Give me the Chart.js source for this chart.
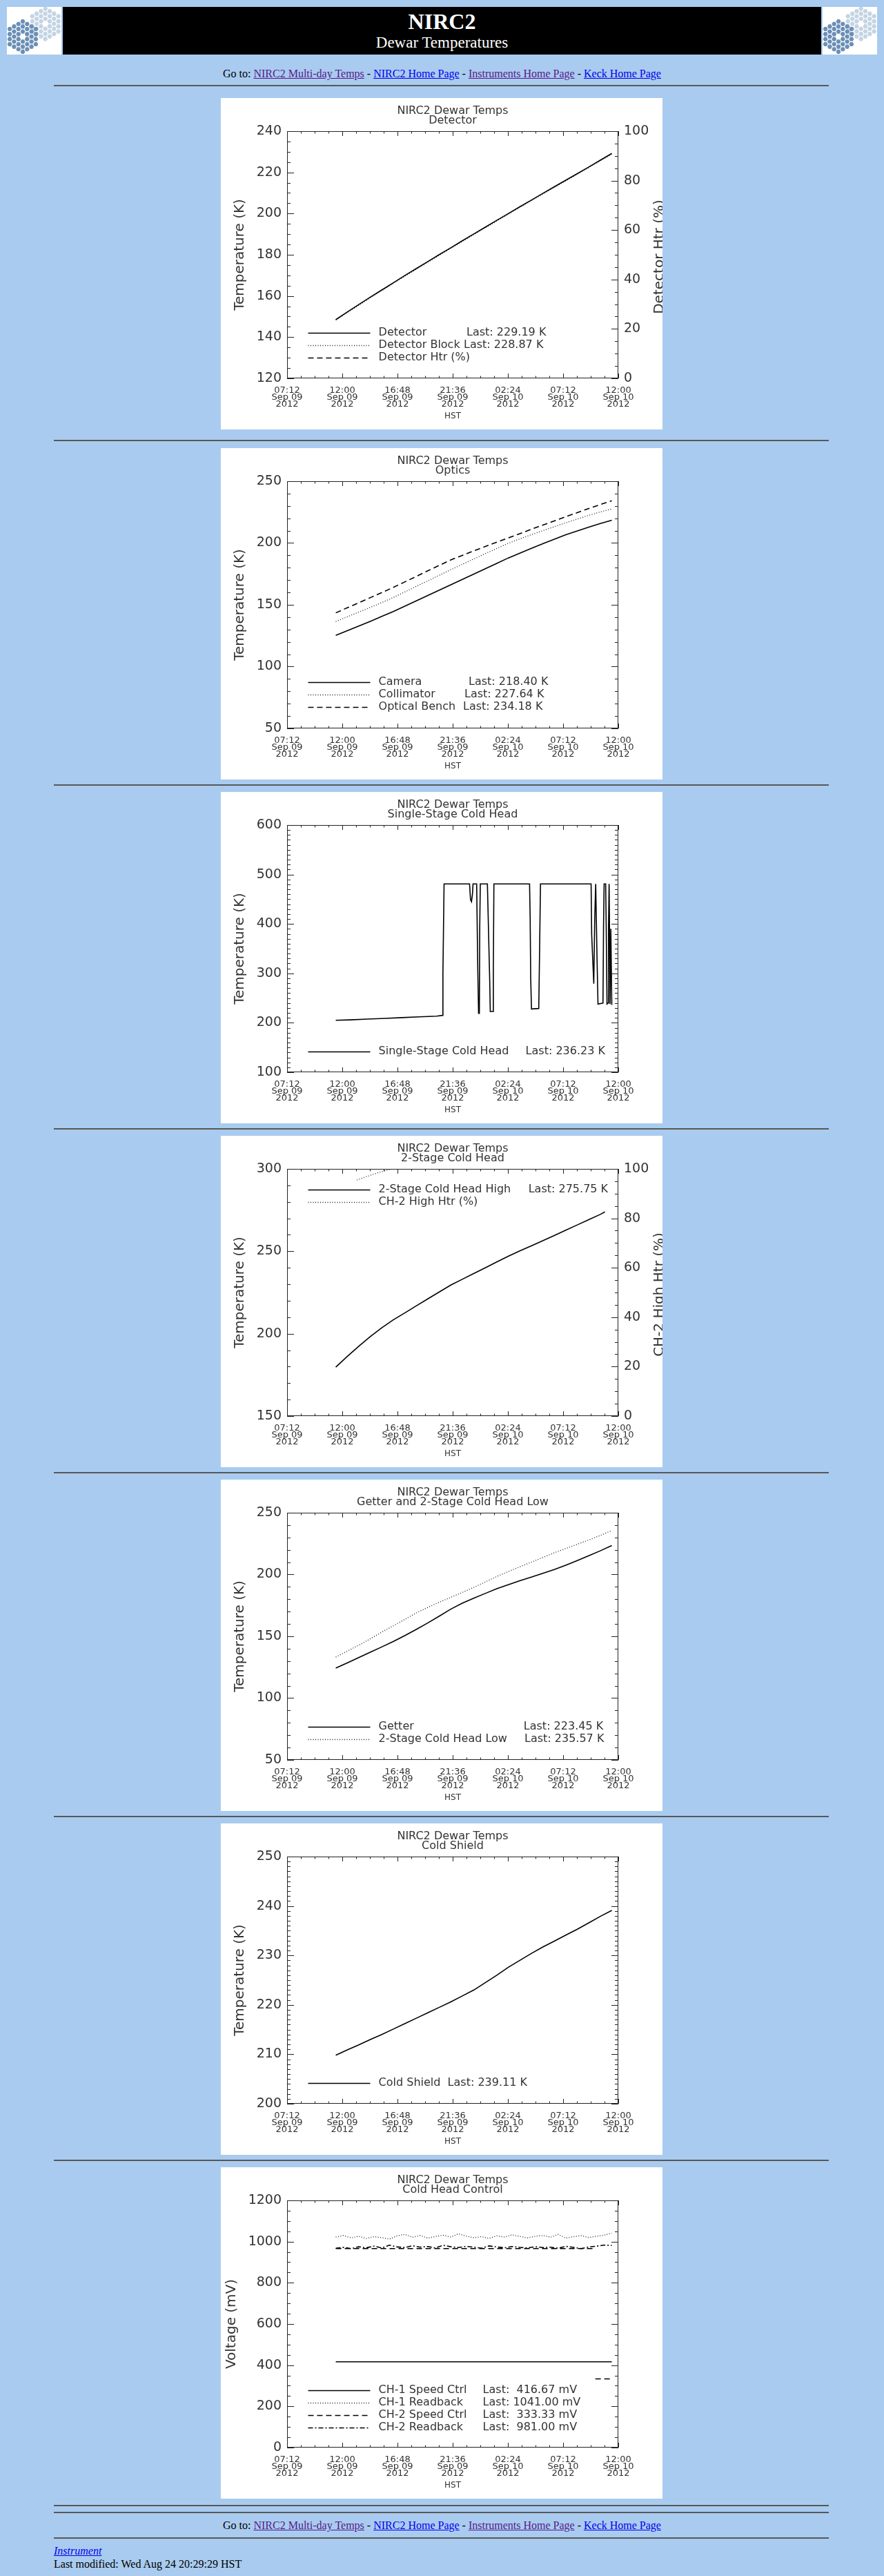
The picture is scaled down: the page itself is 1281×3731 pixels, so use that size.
<!DOCTYPE html>
<html>
<head>
<meta charset="utf-8">
<title>NIRC2 Dewar Temperatures</title>
<script src="https://cdn.jsdelivr.net/npm/chart.js@4.4.1/dist/chart.umd.min.js"></script>
<style>
  body { margin: 0; background: #a9cbef; font-family: 'Liberation Serif', 'Times New Roman', serif; font-size: 16px; }
  #page { position: relative; width: 1281px; height: 3731px; overflow: hidden; }
  .logo { position: absolute; top: 10px; }
  #banner { position: absolute; left: 91px; top: 10px; width: 1099px; height: 69px; background: #000; color: #fff; text-align: center; }
  #banner .big { position: absolute; left: 0; right: 0; top: 5px; font-size: 32px; line-height: 32px; font-weight: bold; }
  #banner .small { position: absolute; left: 0; right: 0; top: 40px; font-size: 23px; line-height: 23px; }
  .rule { position: absolute; left: 78px; width: 1123px; height: 2px; background: #585858; }
  .goto { position: absolute; left: 0; width: 1281px; text-align: center; line-height: 18px; color: #000; }
  .foot { position: absolute; left: 78px; line-height: 18px; }
  a { text-decoration: underline; }
  a.seen { color: #551a8b; }
  a.fresh { color: #0000ee; }
  canvas.plot { position: absolute; left: 320px; background: #fff; }
</style>
</head>
<body>
<div id="page">
  <canvas class="logo" id="logoL" width="79" height="69" style="left:10px"></canvas>
  <div id="banner">
    <div class="big">NIRC2</div>
    <div class="small">Dewar Temperatures</div>
  </div>
  <canvas class="logo" id="logoR" width="79" height="69" style="left:1192px"></canvas>

  <div class="goto" style="top:98px">Go to: <a class="seen" href="#">NIRC2 Multi-day Temps</a> - <a class="fresh" href="#">NIRC2 Home Page</a> - <a class="seen" href="#">Instruments Home Page</a> - <a class="fresh" href="#">Keck Home Page</a></div>
  <div class="rule" style="top:123px"></div>

  <canvas class="plot" id="detector" width="640" height="480" style="top:142px"></canvas>
  <div class="rule" style="top:637px"></div>
  <canvas class="plot" id="optics" width="640" height="480" style="top:649px"></canvas>
  <div class="rule" style="top:1136px"></div>
  <canvas class="plot" id="single" width="640" height="480" style="top:1147px"></canvas>
  <div class="rule" style="top:1634px"></div>
  <canvas class="plot" id="twostage" width="640" height="480" style="top:1645px"></canvas>
  <div class="rule" style="top:2132px"></div>
  <canvas class="plot" id="getter" width="640" height="480" style="top:2143px"></canvas>
  <div class="rule" style="top:2630px"></div>
  <canvas class="plot" id="shield" width="640" height="480" style="top:2641px"></canvas>
  <div class="rule" style="top:3128px"></div>
  <canvas class="plot" id="control" width="640" height="480" style="top:3139px"></canvas>
  <div class="rule" style="top:3628px"></div>
  <div class="rule" style="top:3638px"></div>

  <div class="goto" style="top:3649px">Go to: <a class="seen" href="#">NIRC2 Multi-day Temps</a> - <a class="fresh" href="#">NIRC2 Home Page</a> - <a class="seen" href="#">Instruments Home Page</a> - <a class="fresh" href="#">Keck Home Page</a></div>
  <div class="rule" style="top:3675px"></div>
  <div class="foot" style="top:3686px"><a class="fresh" href="#"><i>Instrument</i></a></div>
  <div class="foot" style="top:3705px">Last modified: Wed Aug 24 20:29:29 HST</div>
</div>

<script>
// time is minutes after midnight, Sep 09 2012 HST
const timeTickLabels = [
  ['07:12', 'Sep 09', '2012'], ['12:00', 'Sep 09', '2012'], ['16:48', 'Sep 09', '2012'],
  ['21:36', 'Sep 09', '2012'], ['02:24', 'Sep 10', '2012'], ['07:12', 'Sep 10', '2012'],
  ['12:00', 'Sep 10', '2012']
];

const hourlyTimes = [686, 746, 806, 866, 926, 986, 1046, 1106, 1166, 1226, 1286, 1346, 1406,
  1466, 1526, 1586, 1646, 1706, 1766, 1826, 1886, 1946, 2006, 2066, 2126];

// Detector
const detectorTemp = [148.5, 152.2, 155.8, 159.4, 162.9, 166.4, 169.9, 173.3, 176.7, 180.1, 183.4, 186.8, 190.1,
  193.4, 196.7, 200.0, 203.3, 206.5, 209.8, 213.0, 216.2, 219.4, 222.6, 225.9, 229.19];
const detectorBlockTemp = [148.3, 151.9, 155.5, 159.1, 162.6, 166.1, 169.6, 173.0, 176.4, 179.8, 183.1, 186.5, 189.8,
  193.1, 196.4, 199.7, 203.0, 206.2, 209.5, 212.7, 215.9, 219.1, 222.3, 225.6, 228.87];
const detectorHeater = [0, 0, 0, 0, 0, 0, 0, 0, 0, 0, 0, 0, 0, 0, 0, 0, 0, 0, 0, 0, 0, 0, 0, 0, 0];
const detectorLegend = ['Detector', 'Detector Block', 'Detector Htr (%)'];
const detectorLast = ['Last: 229.19 K', 'Last: 228.87 K', ''];

// Optics
const cameraTemp = [125.3, 129.0, 132.8, 136.6, 140.6, 144.6, 148.9, 153.2, 157.5, 161.9, 166.2, 170.5, 174.9,
  179.2, 183.5, 187.9, 191.8, 195.6, 199.4, 203.1, 206.7, 209.8, 212.9, 215.8, 218.40];
const collimatorTemp = [136.5, 140.3, 144.1, 147.9, 151.8, 155.9, 160.4, 164.9, 169.4, 173.9, 178.4, 182.8, 187.1,
  191.4, 195.6, 199.8, 203.3, 206.7, 210.0, 213.2, 216.4, 219.4, 222.4, 225.1, 227.64];
const benchTemp = [143.5, 147.6, 151.7, 155.8, 159.9, 164.1, 168.5, 173.0, 177.5, 181.9, 186.3, 190.0, 193.6,
  197.2, 200.7, 204.1, 207.6, 211.1, 214.5, 217.9, 221.3, 224.6, 227.9, 231.1, 234.18];
const opticsLegend = ['Camera', 'Collimator', 'Optical Bench'];
const opticsLast = ['Last: 218.40 K', 'Last: 227.64 K', 'Last: 234.18 K'];

// Single-stage cold head
const singleTimes = [686, 762, 852, 942, 1032, 1122, 1212, 1243, 1245, 1248, 1251, 1384, 1389, 1394, 1399, 1402,
  1421, 1424, 1427, 1431, 1435, 1437, 1440, 1477, 1481, 1485, 1489, 1492, 1506, 1508, 1511,
  1697, 1700, 1703, 1707, 1745, 1748, 1751, 1754, 2018, 2021, 2026, 2032, 2037, 2042,
  2044, 2049, 2054, 2080, 2083, 2086, 2094, 2097, 2101, 2107, 2109, 2112, 2114, 2117, 2121, 2126];
const singleTemp = [205, 206, 207.5, 209, 210.5, 212, 213.5, 215, 300, 390, 481, 481, 449, 445, 460, 481,
  481, 390, 305, 219, 219, 390, 481, 481, 417, 351, 287, 223, 223, 309, 481,
  481, 415, 290, 228, 229, 310, 395, 481, 481, 379, 333, 279, 412, 481,
  481, 330, 238, 240, 400, 481, 481, 390, 238, 240, 395, 481, 398, 238, 390, 236.23];
const singleLegend = ['Single-Stage Cold Head'];
const singleLast = ['Last: 236.23 K'];

// 2-stage cold head high
const highTimes = [686, 746, 806, 866, 926, 986, 1046, 1106, 1166, 1226, 1286, 1346, 1406,
  1466, 1526, 1586, 1646, 1706, 1766, 1826, 1886, 1946, 2006, 2066, 2090];
const highTemp = [179.7, 186.2, 192.4, 198.2, 203.6, 208.4, 212.6, 216.9, 221.1, 225.3, 229.5, 233.0, 236.5,
  240.0, 243.5, 247.0, 250.2, 253.3, 256.4, 259.6, 262.8, 266.0, 269.2, 272.4, 273.9];
const highHtrTimes = [796, 840, 890, 940, 980, 1100, 1300, 1500, 1700, 1900, 2090];
const highHtr = [95.5, 96.7, 98.0, 99.2, 100, 100, 100, 100, 100, 100, 100];
const highLegend = ['2-Stage Cold Head High', 'CH-2 High Htr (%)'];
const highLast = ['Last: 275.75 K', ''];

// Getter and 2-stage cold head low
const getterTemp = [124.3, 128.5, 132.8, 137.1, 141.4, 145.8, 150.6, 155.6, 160.8, 166.3, 172.0, 176.8, 180.9,
  184.7, 188.5, 191.8, 194.9, 197.9, 201.0, 204.1, 207.5, 211.3, 215.2, 219.2, 223.45];
const lowTemp = [133.2, 138.0, 142.8, 148.0, 153.4, 158.5, 163.7, 168.9, 173.4, 177.6, 181.6, 185.5, 189.6,
  194.0, 198.4, 202.4, 206.2, 210.0, 213.8, 217.6, 221.0, 224.5, 228.0, 231.6, 235.57];
const getterLegend = ['Getter', '2-Stage Cold Head Low'];
const getterLast = ['Last: 223.45 K', 'Last: 235.57 K'];

// Cold shield
const shieldTemp = [209.8, 210.9, 211.9, 213.0, 214.0, 215.1, 216.2, 217.3, 218.4, 219.5, 220.6, 221.8, 223.0,
  224.5, 226.0, 227.6, 229.0, 230.4, 231.7, 232.9, 234.1, 235.3, 236.6, 237.9, 239.11];
const shieldLegend = ['Cold Shield'];
const shieldLast = ['Last: 239.11 K'];

// Cold head control
const controlTimes = [686, 726, 766, 806, 846, 886, 926, 966, 1006, 1046, 1086, 1126, 1166, 1206, 1246, 1286,
  1326, 1366, 1406, 1446, 1486, 1526, 1566, 1606, 1646, 1686, 1726, 1766, 1806, 1846, 1886, 1926,
  1966, 2006, 2046, 2086, 2126];
const ch1Readback = [1022, 1030, 1018, 1026, 1015, 1024, 1019, 1012, 1028, 1035, 1021, 1030, 1017, 1025, 1031, 1022,
  1038, 1027, 1019, 1024, 1016, 1028, 1022, 1033, 1025, 1018, 1026, 1030, 1021, 1035, 1017, 1024,
  1029, 1020, 1026, 1031, 1041];
const ch2Readback = [968, 972, 966, 975, 970, 978, 969, 983, 974, 971, 980, 973, 976, 969, 982, 975,
  971, 977, 973, 968, 979, 974, 970, 976, 972, 969, 975, 971, 973, 968, 977, 972,
  966, 974, 978, 983, 981];
const ch1SpeedTimes = [686, 1046, 1406, 1766, 2126];
const ch1Speed = [416.67, 416.67, 416.67, 416.67, 416.67];
const ch2SpeedTimes = [686, 1046, 1406, 1766, 2030, 2035, 2040, 2126];
const ch2Speed = [966, 966, 966, 966, 966, null, 333.33, 333.33];
const controlLegend = ['CH-1 Speed Ctrl', 'CH-1 Readback', 'CH-2 Speed Ctrl', 'CH-2 Readback'];
const controlLast = ['Last:  416.67 mV', 'Last: 1041.00 mV', 'Last:  333.33 mV', 'Last:  981.00 mV'];

const ink = '#333';
const SOLID = [], DOTTED = [1, 2.5], DASHED = [8, 5], DASHDOT = [7, 3, 2, 3];

Chart.defaults.font.family = "'DejaVu Sans', sans-serif";
Chart.defaults.color = ink;
Chart.defaults.animation = false;

// IDL style frame: box plus inward major/minor ticks on all four sides
const idlAxes = {
  id: 'idlAxes',
  afterDatasetsDraw(chart, args, opts) {
    const { ctx, chartArea: a, scales } = chart;
    ctx.save();
    ctx.strokeStyle = '#222';
    ctx.lineWidth = 1;
    ctx.beginPath();
    ctx.rect(a.left + 0.5, a.top + 0.5, a.right - a.left - 1, a.bottom - a.top - 1);
    const seg = (x1, y1, x2, y2) => { ctx.moveTo(x1, y1); ctx.lineTo(x2, y2); };

    const xs = scales.x;
    const xv = xs.ticks.map(t => t.value);
    const xstep = xv[1] - xv[0];
    xv.forEach((v, i) => {
      const px = Math.round(xs.getPixelForValue(v)) + 0.5;
      seg(px, a.bottom, px, a.bottom - 7);
      seg(px, a.top, px, a.top + 7);
      if (i < xv.length - 1) {
        for (let k = 1; k < opts.xMinor; k++) {
          const m = Math.round(xs.getPixelForValue(v + k * xstep / opts.xMinor)) + 0.5;
          seg(m, a.bottom, m, a.bottom - 3.5);
          seg(m, a.top, m, a.top + 3.5);
        }
      }
    });

    const yTicks = (scale, minor, x0, dir) => {
      const yv = scale.ticks.map(t => t.value);
      const ystep = yv[1] - yv[0];
      yv.forEach((v, i) => {
        const py = Math.round(scale.getPixelForValue(v)) + 0.5;
        seg(x0, py, x0 + dir * 10, py);
        if (i < yv.length - 1) {
          for (let k = 1; k < minor; k++) {
            const m = Math.round(scale.getPixelForValue(v + k * ystep / minor)) + 0.5;
            seg(x0, m, x0 + dir * 5, m);
          }
        }
      });
    };
    yTicks(scales.y, opts.yMinor, a.left, 1);
    if (scales.y1) yTicks(scales.y1, opts.y1Minor, a.right, -1);
    else yTicks(scales.y, opts.yMinor, a.right, -1);
    ctx.stroke();
    ctx.restore();
  }
};

// legend drawn inside the plot, IDL style
const idlLegend = {
  id: 'idlLegend',
  afterDraw(chart, args, opts) {
    const { ctx } = chart;
    ctx.save();
    ctx.font = "16px 'DejaVu Sans'";
    ctx.textBaseline = 'middle';
    ctx.fillStyle = ink;
    chart.data.datasets.forEach((ds, i) => {
      const y = opts.y0 + i * 18;
      ctx.beginPath();
      ctx.strokeStyle = ds.borderColor;
      ctx.lineWidth = ds.borderWidth;
      ctx.setLineDash(ds.borderDash || []);
      ctx.moveTo(126.5, Math.round(y) + 0.5);
      ctx.lineTo(216.5, Math.round(y) + 0.5);
      ctx.stroke();
      ctx.setLineDash([]);
      ctx.fillText(opts.names[i], 228.6, y);
      if (opts.lasts[i]) ctx.fillText(opts.lasts[i], opts.lastX[i], y);
    });
    ctx.restore();
  }
};

// second y axis title reads bottom to top like the left one
const rightTitle = {
  id: 'rightTitle',
  afterDraw(chart, args, opts) {
    if (!opts.text) return;
    const { ctx } = chart;
    ctx.save();
    ctx.font = "20px 'DejaVu Sans'";
    ctx.fillStyle = ink;
    ctx.textAlign = 'center';
    ctx.textBaseline = 'middle';
    ctx.translate(636, 230);
    ctx.rotate(-Math.PI / 2);
    ctx.fillText(opts.text, 0, 0);
    ctx.restore();
  }
};

function series(label, times, values, dash, axis) {
  return {
    label,
    data: times.map((t, i) => ({ x: t, y: values[i] })),
    borderColor: dash === DOTTED ? '#1a1a1a' : '#000',
    borderWidth: dash === DOTTED ? 1.3 : 1.6,
    borderDash: dash,
    pointRadius: 0,
    tension: 0,
    spanGaps: false,
    yAxisID: axis || 'y'
  };
}

const plainNumber = v => String(v);

function plotDewar(id, spec) {
  const scales = {
    x: {
      type: 'linear', min: 432, max: 2160,
      grid: { display: false, drawTicks: false },
      border: { display: false },
      ticks: {
        stepSize: 288, autoSkip: false, maxRotation: 0, padding: 12, color: ink,
        font: { size: 13, lineHeight: 0.8 },
        callback: (v, i) => timeTickLabels[i]
      },
      title: { display: true, text: 'HST', color: ink, font: { size: 12, lineHeight: 1.2 }, padding: { top: 0, bottom: 11.5 } },
      afterFit: s => { s.height = 74; }
    },
    y: {
      type: 'linear', position: 'left', min: spec.yMin, max: spec.yMax,
      grid: { display: false, drawTicks: false },
      border: { display: false },
      ticks: { stepSize: spec.yStep, padding: 8, color: ink, font: { size: 19 }, callback: plainNumber },
      title: { display: true, text: spec.yTitle, color: ink, font: { size: 20, lineHeight: 1.2 }, padding: { top: spec.yTitlePad, bottom: 0 } },
      afterFit: s => { s.width = 96; }
    }
  };
  if (spec.right) {
    scales.y1 = {
      type: 'linear', position: 'right', min: 0, max: 100,
      grid: { display: false, drawTicks: false },
      border: { display: false },
      ticks: { stepSize: 20, padding: 8, color: ink, font: { size: 19 }, callback: plainNumber },
      afterFit: s => { s.width = 64; }
    };
  }
  return new Chart(document.getElementById(id), {
    type: 'line',
    data: { datasets: spec.datasets },
    options: {
      responsive: false,
      events: [],
      layout: { padding: { left: 0, top: 0, bottom: 0, right: spec.right ? 0 : 64 } },
      scales,
      plugins: {
        legend: { display: false },
        tooltip: { enabled: false },
        title: {
          display: true, fullSize: false, text: ['NIRC2 Dewar Temps', spec.title], color: ink,
          font: { size: 16, weight: 'normal', lineHeight: 0.89 },
          padding: { top: 11.8, bottom: 7.7 }
        },
        idlAxes: { xMinor: 4, yMinor: spec.yMinor, y1Minor: 4 },
        idlLegend: { names: spec.names, lasts: spec.lasts, lastX: spec.lastX, y0: spec.legendY },
        rightTitle: { text: spec.right || '' }
      }
    },
    plugins: [idlAxes, idlLegend, rightTitle]
  });
}

plotDewar('detector', {
  title: 'Detector', yMin: 120, yMax: 240, yStep: 20, yMinor: 4, yTitle: 'Temperature (K)', yTitlePad: 16,
  right: 'Detector Htr (%)',
  datasets: [
    series('Detector', hourlyTimes, detectorTemp, SOLID),
    series('Detector Block', hourlyTimes, detectorBlockTemp, DOTTED),
    series('Detector Htr (%)', hourlyTimes, detectorHeater, DASHED, 'y1')
  ],
  names: detectorLegend, lasts: detectorLast, lastX: [356, 352, 0], legendY: 339.7
});

plotDewar('optics', {
  title: 'Optics', yMin: 50, yMax: 250, yStep: 50, yMinor: 5, yTitle: 'Temperature (K)', yTitlePad: 16,
  datasets: [
    series('Camera', hourlyTimes, cameraTemp, SOLID),
    series('Collimator', hourlyTimes, collimatorTemp, DOTTED),
    series('Optical Bench', hourlyTimes, benchTemp, DASHED)
  ],
  names: opticsLegend, lasts: opticsLast, lastX: [359, 353, 351], legendY: 339.3
});

plotDewar('single', {
  title: 'Single-Stage Cold Head', yMin: 100, yMax: 600, yStep: 100, yMinor: 10, yTitle: 'Temperature (K)', yTitlePad: 16,
  datasets: [series('Single-Stage Cold Head', singleTimes, singleTemp, SOLID)],
  names: singleLegend, lasts: singleLast, lastX: [441.6], legendY: 375.7
});

plotDewar('twostage', {
  title: '2-Stage Cold Head', yMin: 150, yMax: 300, yStep: 50, yMinor: 5, yTitle: 'Temperature (K)', yTitlePad: 16,
  right: 'CH-2 High Htr (%)',
  datasets: [
    series('2-Stage Cold Head High', highTimes, highTemp, SOLID),
    series('CH-2 High Htr (%)', highHtrTimes, highHtr, DOTTED, 'y1')
  ],
  names: highLegend, lasts: highLast, lastX: [445.7, 0], legendY: 78.3
});

plotDewar('getter', {
  title: 'Getter and 2-Stage Cold Head Low', yMin: 50, yMax: 250, yStep: 50, yMinor: 5, yTitle: 'Temperature (K)', yTitlePad: 16,
  datasets: [
    series('Getter', hourlyTimes, getterTemp, SOLID),
    series('2-Stage Cold Head Low', hourlyTimes, lowTemp, DOTTED)
  ],
  names: getterLegend, lasts: getterLast, lastX: [438.8, 440], legendY: 357.7
});

plotDewar('shield', {
  title: 'Cold Shield', yMin: 200, yMax: 250, yStep: 10, yMinor: 10, yTitle: 'Temperature (K)', yTitlePad: 16,
  datasets: [series('Cold Shield', hourlyTimes, shieldTemp, SOLID)],
  names: shieldLegend, lasts: shieldLast, lastX: [328.6], legendY: 375.7
});

plotDewar('control', {
  title: 'Cold Head Control', yMin: 0, yMax: 1200, yStep: 200, yMinor: 4, yTitle: 'Voltage (mV)', yTitlePad: 4,
  datasets: [
    series('CH-1 Speed Ctrl', ch1SpeedTimes, ch1Speed, SOLID),
    series('CH-1 Readback', controlTimes, ch1Readback, DOTTED),
    series('CH-2 Speed Ctrl', ch2SpeedTimes, ch2Speed, DASHED),
    series('CH-2 Readback', controlTimes, ch2Readback, DASHDOT)
  ],
  names: controlLegend, lasts: controlLast, lastX: [379.6, 379.6, 379.6, 379.6], legendY: 322.7
});

// Keck mirror logo: two hexagonal clusters of segments
function drawLogo(canvas) {
  const ctx = canvas.getContext('2d');
  ctx.fillStyle = '#fff';
  ctx.fillRect(0, 0, canvas.width, canvas.height);
  const cluster = (cx, cy, color) => {
    ctx.fillStyle = color;
    for (let q = -3; q <= 3; q++) {
      for (let r = -3; r <= 3; r++) {
        const s = -q - r;
        if (Math.max(Math.abs(q), Math.abs(r), Math.abs(s)) > 3 || (q === 0 && r === 0)) continue;
        const x = cx + q * 6.3, y = cy + (r + q / 2) * 7.3;
        ctx.beginPath();
        for (let k = 0; k < 6; k++) {
          const ang = Math.PI / 3 * k;
          ctx.lineTo(x + 3.5 * Math.cos(ang), y + 3.5 * Math.sin(ang));
        }
        ctx.closePath();
        ctx.fill();
      }
    }
  };
  cluster(55.7, 24.5, '#c4d4e4');
  cluster(23, 43, '#6b8fb6');
}
drawLogo(document.getElementById('logoL'));
drawLogo(document.getElementById('logoR'));
</script>
</body>
</html>
